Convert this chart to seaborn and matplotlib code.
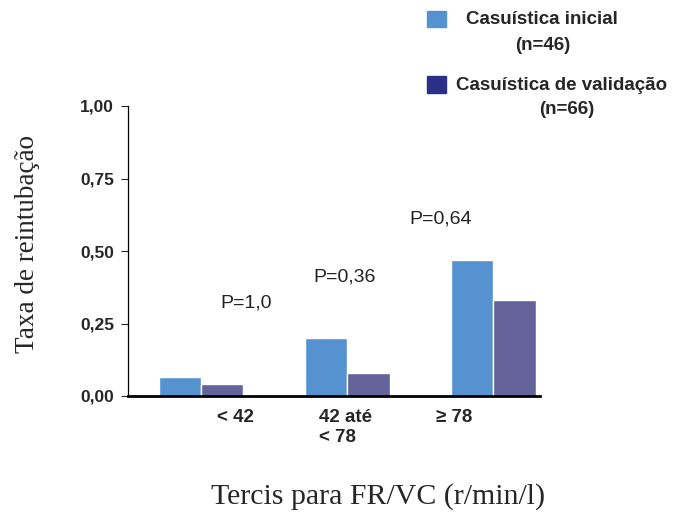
import matplotlib
matplotlib.use("Agg")
import matplotlib.pyplot as plt
import seaborn as sns
import pandas as pd
from matplotlib.patches import Rectangle

categories = ["< 42", "42 até\n< 78", "≥ 78"]
inicial = [0.065, 0.20, 0.47]
validacao = [0.04, 0.08, 0.33]
series_names = ["Casuística inicial", "Casuística de validação"]
p_labels = ["P=1,0", "P=0,36", "P=0,64"]
p_heights = [0.32, 0.41, 0.61]
yticks = [0.0, 0.25, 0.5, 0.75, 1.0]
ytick_labels = ["0,00", "0,25", "0,50", "0,75", "1,00"]

df = pd.DataFrame({
    "cat": categories * 2,
    "serie": [series_names[0]] * 3 + [series_names[1]] * 3,
    "val": inicial + validacao,
})

sns.set_style("white")
plt.rcParams['font.family'] = ['Liberation Sans', 'DejaVu Sans']

fig = plt.figure(figsize=(6.77, 5.15), dpi=100)
ax = fig.add_axes([128/677, 119/515, (540-128)/677, 290/515])

bar_colors = ["#5592CF", "#646399"]
sns.barplot(data=df, x="cat", y="val", hue="serie", palette=bar_colors,
            width=0.58, ax=ax, legend=False, edgecolor="white", linewidth=1,
            saturation=1)

ax.set_xlim(-0.5, 2.32)
ax.set_ylim(0, 1)
ax.set_yticks(yticks)
ax.set_yticklabels(ytick_labels, fontweight="bold", fontsize=12.5)
ax.tick_params(axis="y", direction="out", length=5, width=0.8, left=True, pad=5)
ax.set_xticks([])
ax.set_xlabel("")
ax.set_ylabel("")
for s in ["top", "right"]:
    ax.spines[s].set_visible(False)
ax.spines["left"].set_linewidth(0.9)
ax.spines["bottom"].set_linewidth(2)
ax.spines["left"].set_color("black")
ax.spines["bottom"].set_color("black")

# category labels
cat_x = [0.11, 0.81, 1.61]
for cx, lab in zip(cat_x, categories):
    ax.text(cx, -0.045, lab, ha="left", va="top", fontweight="bold",
            fontsize=13.5, transform=ax.get_xaxis_transform(), linespacing=1.25)

# p labels
p_x = [0.31, 0.98, 1.64]
for px, lab, ph in zip(p_x, p_labels, p_heights):
    ax.text(px, ph, lab, ha="center", va="center", fontsize=14, color="#222222")

fig.text(378/677, 1 - 497/515, "Tercis para FR/VC (r/min/l)", ha="center", va="center",
         fontsize=21.5, family=["Liberation Serif", "DejaVu Serif"])
fig.text(28/677, 1 - 244/515, "Taxa de reintubação", ha="center", va="center",
         rotation=90, fontsize=19.5, family=["Liberation Serif", "DejaVu Serif"])

# legend
leg_colors = ["#5592CF", "#2B2F85"]
fig.patches.append(Rectangle((427/677, 1 - 27/515), 19/677, 16/515,
                             transform=fig.transFigure, color=leg_colors[0]))
fig.patches.append(Rectangle((427/677, 1 - 93/515), 19/677, 17/515,
                             transform=fig.transFigure, color=leg_colors[1]))
fig.text(542/677, 1 - 20/515, series_names[0], ha="center", va="center",
         fontweight="bold", fontsize=13.5)
fig.text(543/677, 1 - 45/515, "(n=46)", ha="center", va="center",
         fontweight="bold", fontsize=13.5)
fig.text(456/677, 1 - 85/515, series_names[1], ha="left", va="center",
         fontweight="bold", fontsize=13.5)
fig.text(567/677, 1 - 110/515, "(n=66)", ha="center", va="center",
         fontweight="bold", fontsize=13.5)

fig.savefig("out.png", dpi=100)
